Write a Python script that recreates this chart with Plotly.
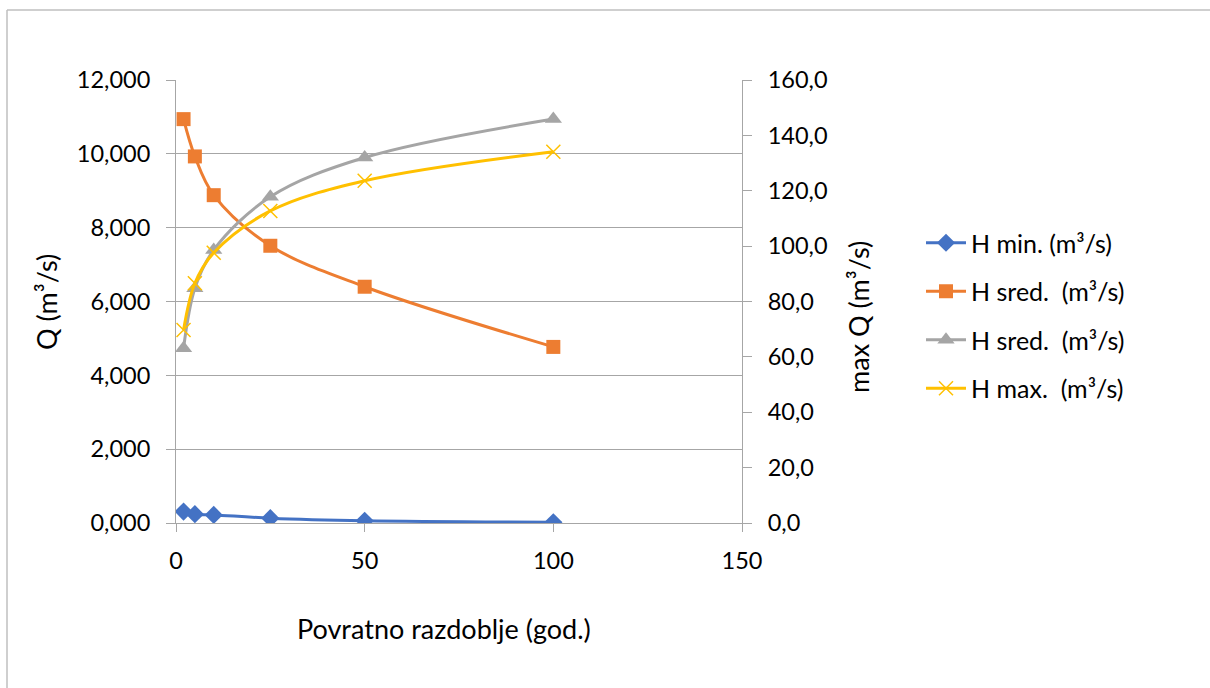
import plotly.graph_objects as go

# Data
x_years = [2, 5, 10, 25, 50, 100]
h_min = [0.31, 0.24, 0.22, 0.13, 0.06, 0.02]
h_sred_q = [10.94, 9.93, 8.88, 7.51, 6.40, 4.77]
h_sred_max = [63.1, 84.8, 98.6, 117.8, 132.0, 145.9]
h_max = [69.7, 86.6, 97.6, 112.7, 123.6, 134.1]

names = ["H min. (m³/s)", "H sred.  (m³/s)", "H sred.  (m³/s)", "H max.  (m³/s)"]

FONT = "Lato"
FS_TICK = 23.5
FS_LEG = 25
FS_TITLE = 27
TXT = "#000000"
GRID = "#A6A6A6"

L, R, T, B = 176, 742, 80, 523
W, H = 1210, 688

fig = go.Figure()
fig.add_trace(go.Scatter(x=x_years, y=h_min, name=names[0], mode="lines+markers",
                         line=dict(color="#4472C4", width=3, shape="spline"),
                         marker=dict(symbol="diamond", size=14, color="#4472C4"),
                         legendgroup="a"))
fig.add_trace(go.Scatter(x=x_years, y=h_sred_q, name=names[1], mode="lines+markers",
                         line=dict(color="#ED7D31", width=3, shape="spline"),
                         marker=dict(symbol="square", size=14, color="#ED7D31"),
                         legendgroup="b"))
fig.add_trace(go.Scatter(x=x_years, y=h_sred_max, name=names[2], mode="lines+markers",
                         line=dict(color="#A5A5A5", width=3, shape="spline"),
                         marker=dict(symbol="triangle-up", size=15, color="#A5A5A5"),
                         legendgroup="c", yaxis="y2"))
fig.add_trace(go.Scatter(x=x_years, y=h_max, name=names[3], mode="lines+markers",
                         line=dict(color="#FFC000", width=3, shape="spline"),
                         marker=dict(symbol="x-thin-open", size=14,
                                     line=dict(color="#FFC000", width=1.5)),
                         legendgroup="d", yaxis="y2"))

def px2x(px):
    return (px - L) / (R - L)

def py2y(py):
    return (B - py) / (B - T)

fig.update_layout(
    width=W, height=H,
    margin=dict(l=L, r=W - R, t=T, b=H - B, pad=0),
    paper_bgcolor="white", plot_bgcolor="white",
    separators=",.",
    font=dict(family=FONT, size=FS_TICK, color=TXT),
    showlegend=True,
    legend=dict(x=px2x(921), y=py2y(220), xanchor="left", yanchor="top",
                tracegroupgap=13, font=dict(family=FONT, size=FS_LEG, color=TXT),
                bgcolor="rgba(0,0,0,0)", itemwidth=40),
    xaxis=dict(range=[0, 150], tickvals=[0, 50, 100, 150], ticks="outside",
               ticklen=8, tickcolor=GRID, showline=True, linecolor=GRID, linewidth=1,
               showgrid=False, zeroline=False, ticklabelstandoff=9,
               tickfont=dict(family=FONT, size=FS_TICK, color=TXT)),
    yaxis=dict(range=[0, 12], tickvals=[0, 2, 4, 6, 8, 10, 12], tickformat=".3f",
               ticks="outside", ticklen=9, tickcolor=GRID, showline=True,
               linecolor=GRID, linewidth=1, showgrid=True, gridcolor=GRID,
               gridwidth=1, zeroline=False, ticklabelstandoff=11,
               tickfont=dict(family=FONT, size=FS_TICK, color=TXT)),
    yaxis2=dict(range=[0, 160], tickvals=[0, 20, 40, 60, 80, 100, 120, 140, 160],
                tickformat=".1f", overlaying="y", side="right", ticks="outside",
                ticklen=9, tickcolor=GRID, showline=True, linecolor=GRID,
                linewidth=1, showgrid=False, zeroline=False, ticklabelstandoff=11,
                tickfont=dict(family=FONT, size=FS_TICK, color=TXT)),
    annotations=[
        dict(text="Q (m³/s)", x=px2x(46), y=py2y(302), xref="paper", yref="paper",
             showarrow=False, textangle=-90, xanchor="center", yanchor="middle",
             font=dict(family=FONT, size=FS_TITLE, color=TXT)),
        dict(text="max Q (m³/s)", x=px2x(858), y=py2y(317), xref="paper", yref="paper",
             showarrow=False, textangle=-90, xanchor="center", yanchor="middle",
             font=dict(family=FONT, size=FS_TITLE, color=TXT)),
        dict(text="Povratno razdoblje (god.)", x=px2x(444), y=py2y(628), xref="paper",
             yref="paper", showarrow=False, xanchor="center", yanchor="middle",
             font=dict(family=FONT, size=FS_TITLE, color=TXT)),
    ],
    shapes=[
        dict(type="line", xref="paper", yref="paper", x0=px2x(7), x1=px2x(7),
             y0=py2y(10), y1=py2y(700), line=dict(color="#BFBFBF", width=1.5)),
        dict(type="line", xref="paper", yref="paper", x0=px2x(7), x1=px2x(1220),
             y0=py2y(10), y1=py2y(10), line=dict(color="#BFBFBF", width=1.5)),
    ],
)

fig.write_html("out.html")
